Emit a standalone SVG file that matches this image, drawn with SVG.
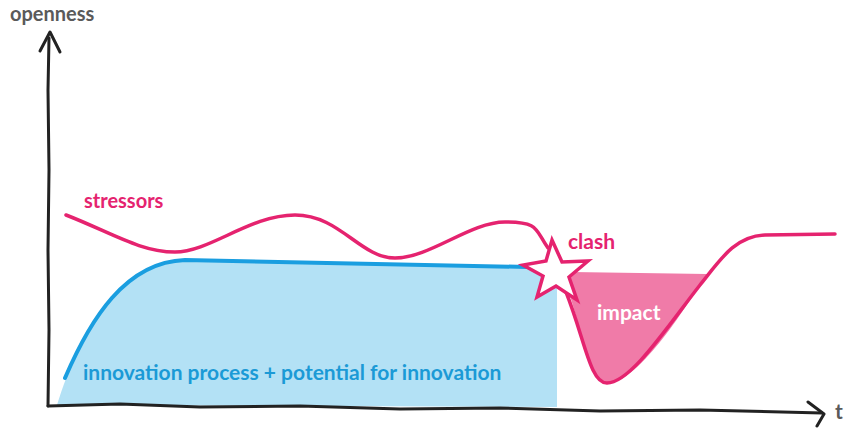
<svg xmlns="http://www.w3.org/2000/svg" width="852" height="428" viewBox="0 0 852 428">
<style>
.lbl{font-family:Lato,"Open Sans","Liberation Sans",sans-serif;font-weight:bold}
.axis{fill:none;stroke:#222;stroke-width:3;stroke-linecap:round;stroke-linejoin:round}
</style>
<rect width="852" height="428" fill="#fff"/>
<g id="innovation">
<path d="M57,405 C80,330 120,262 185,260 L527,267 L557,268 L557,407 L57,405 Z" fill="#b3e1f5"/>
<path d="M65,378 C90,320 125,262 185,260 L527,267" fill="none" stroke="#1a9ee0" stroke-width="4" stroke-linecap="round"/>
<text class="lbl" x="83" y="380" font-size="21" fill="#1b9ad6">innovation process + potential for innovation</text>
</g>
<g id="impact">
<path d="M572,272 L707,274 C690,300 640,383 607,383 C590,383 582,330 568,290 Z" fill="#f07ba8"/>
<text class="lbl" x="597" y="320" font-size="21" fill="#fff">impact</text>
</g>
<g id="connectors">
<path class="axis" d="M48,406 L49,330 L48,250 L49,170 L48,90 L49,38"/>
<path class="axis" d="M40,51 L50,32 L60,52"/>
<path class="axis" d="M48,406 L120,404 L200,407 L300,406 L400,409 L500,408 L600,411 L700,410 L822,413"/>
<path class="axis" d="M808,402 L824,414 L817,426"/>
</g>
<g id="stressors">
<path d="M66,215 C110,232 140,252 175,252 S250,215 295,215 S360,258 395,258 S470,222 505,222 S535,230 548,248 M566,292 C585,340 590,383 607,383 C630,383 665,330 700,285 C720,260 735,236 765,235 L835,234" fill="none" stroke="#e5236f" stroke-width="3.5" stroke-linecap="round"/>
<text class="lbl" x="84" y="208" font-size="20" fill="#e5236f">stressors</text>
</g>
<g id="clash">
<polygon points="552,240 562,262 588,261 569,277 577,300 556,286 537,297 543,276 523,265 546,261" fill="#fff" stroke="#e5236f" stroke-width="3.5" stroke-linejoin="miter"/>
<text class="lbl" x="568" y="249" font-size="21" fill="#e5236f">clash</text>
</g>
<text class="lbl" x="10" y="21" font-size="20" fill="#5a5a5a">openness</text>
<text class="lbl" x="835" y="419" font-size="21" fill="#5a5a5a">t</text>
</svg>
